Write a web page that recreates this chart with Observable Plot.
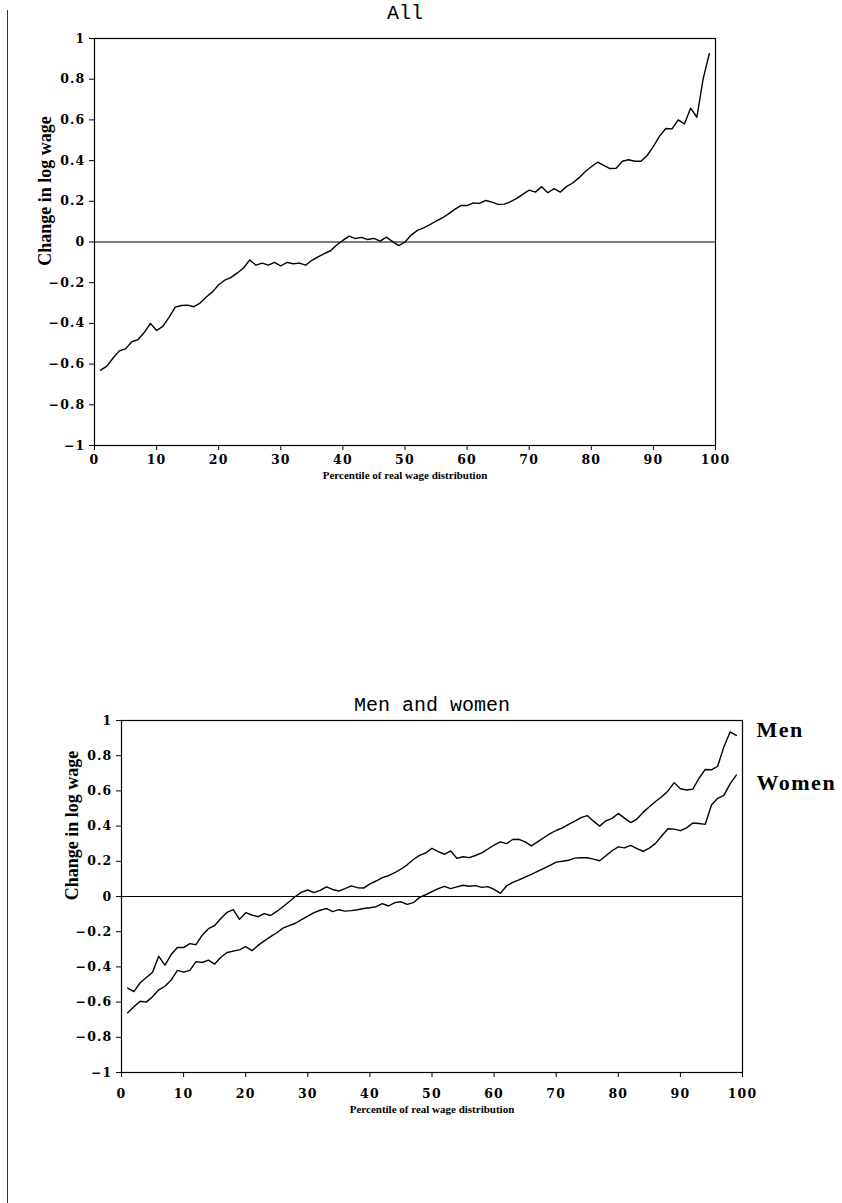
<!DOCTYPE html>
<html><head><meta charset="utf-8">
<script src="https://cdn.jsdelivr.net/npm/d3@7"></script>
<script src="https://cdn.jsdelivr.net/npm/@observablehq/plot@0.6"></script>
<style>
body{margin:0;background:#fff;}
#page{position:relative;width:842px;height:1203px;overflow:hidden;background:#fff;}
.panel{position:absolute;left:0;}
.edge{position:absolute;left:7px;top:10px;height:1193px;border-left:1px solid #333;}
.panel svg g[aria-label="x-axis tick label"] text,
.panel svg g[aria-label="y-axis tick label"] text{letter-spacing:1.2px;}
</style></head><body><div id="page"><div class="edge"></div></div>
<script>
const percentiles = d3.range(1, 100);
const allChange = [-0.63,-0.61,-0.57,-0.535,-0.525,-0.49,-0.48,-0.445,-0.40,-0.435,
 -0.415,-0.37,-0.32,-0.312,-0.31,-0.318,-0.30,-0.27,-0.245,-0.21,
 -0.187,-0.174,-0.152,-0.128,-0.088,-0.114,-0.104,-0.114,-0.10,-0.118,
 -0.10,-0.107,-0.104,-0.114,-0.09,-0.073,-0.057,-0.043,-0.015,0.008,
 0.029,0.017,0.023,0.012,0.018,0.004,0.024,0.002,-0.018,0.0,
 0.034,0.057,0.069,0.085,0.102,0.118,0.138,0.16,0.179,0.179,
 0.192,0.19,0.204,0.196,0.185,0.186,0.198,0.214,0.235,0.255,
 0.245,0.272,0.242,0.262,0.245,0.272,0.29,0.315,0.345,0.37,
 0.392,0.376,0.361,0.362,0.397,0.404,0.397,0.397,0.425,0.47,
 0.52,0.558,0.556,0.60,0.58,0.658,0.613,0.80,0.925];
const menChange = [-0.52,-0.54,-0.49,-0.46,-0.43,-0.34,-0.39,-0.33,-0.29,-0.29,
 -0.268,-0.274,-0.22,-0.183,-0.165,-0.125,-0.09,-0.075,-0.13,-0.092,
 -0.105,-0.115,-0.097,-0.108,-0.085,-0.058,-0.03,0.0,0.025,0.037,
 0.022,0.035,0.055,0.04,0.031,0.045,0.06,0.05,0.048,0.072,
 0.088,0.107,0.118,0.135,0.155,0.18,0.21,0.234,0.248,0.274,
 0.255,0.24,0.259,0.217,0.226,0.221,0.233,0.248,0.27,0.292,
 0.31,0.30,0.324,0.325,0.31,0.288,0.31,0.334,0.357,0.375,
 0.39,0.41,0.428,0.448,0.46,0.428,0.40,0.43,0.444,0.472,
 0.445,0.42,0.44,0.478,0.51,0.54,0.567,0.60,0.647,0.612,
 0.605,0.61,0.672,0.722,0.72,0.74,0.85,0.935,0.915];
const womenChange = [-0.66,-0.626,-0.595,-0.60,-0.57,-0.53,-0.51,-0.475,-0.42,-0.43,
 -0.42,-0.37,-0.375,-0.362,-0.384,-0.345,-0.318,-0.31,-0.303,-0.285,
 -0.308,-0.278,-0.252,-0.228,-0.206,-0.18,-0.165,-0.152,-0.132,-0.112,
 -0.092,-0.078,-0.068,-0.086,-0.075,-0.083,-0.08,-0.075,-0.068,-0.064,
 -0.058,-0.04,-0.054,-0.035,-0.03,-0.045,-0.035,-0.005,0.01,0.028,
 0.045,0.058,0.045,0.055,0.064,0.058,0.062,0.052,0.056,0.04,
 0.018,0.06,0.08,0.094,0.11,0.126,0.143,0.16,0.177,0.195,
 0.2,0.206,0.218,0.22,0.22,0.212,0.203,0.232,0.26,0.282,
 0.276,0.29,0.272,0.257,0.275,0.302,0.345,0.385,0.383,0.374,
 0.39,0.418,0.415,0.41,0.52,0.558,0.575,0.64,0.69];
const yTicks = [-1,-0.8,-0.6,-0.4,-0.2,0,0.2,0.4,0.6,0.8,1];
const xTicks = [0,10,20,30,40,50,60,70,80,90,100];
const panelTitles = ["All", "Men and women"];
const seriesNames = ["Men", "Women"];
const seriesLabelY = [0.945, 0.645];
const yLabel = "Change in log wage";
const xLabel = "Percentile of real wage distribution";

const fmtY = d => d === 0 ? "0" : (d < 0 ? "\u2212" : "") + String(+Math.abs(d).toFixed(1));

function makePanel({top, height, mL, mR, mT, mB, series, title, labels, titleDy, yLabelDy, xPad, xLabelDy}) {
  const marks = [
    Plot.frame({stroke: "#000", strokeWidth: 1.2}),
    Plot.ruleY([0], {stroke: "#000", strokeWidth: 1.2}),
    Plot.axisX({ticks: xTicks, tickSize: 5, tickPadding: xPad, label: null, stroke: "#000"}),
    Plot.axisY({ticks: yTicks, tickSize: 5, tickPadding: 4, tickFormat: fmtY, label: null, stroke: "#000"}),
    Plot.line(series, {x: "p", y: "v", z: "s", stroke: "#000", strokeWidth: 1.4}),
    Plot.text([title], {frameAnchor: "top", dy: titleDy, fontFamily: "Liberation Mono", fontSize: 20, fontWeight: "normal", text: d => d, fill: "#000"}),
    Plot.text([xLabel], {frameAnchor: "bottom", dy: xLabelDy, fontFamily: "Liberation Serif", fontSize: 11, fontWeight: "bold", text: d => d, fill: "#000"}),
    Plot.text([yLabel], {frameAnchor: "left", dx: -49, dy: yLabelDy, rotate: -90, textAnchor: "middle", fontFamily: "Liberation Serif", fontSize: 18, fontWeight: "bold", text: d => d, fill: "#000"})
  ];
  if (labels) {
    marks.push(Plot.text(labels, {x: () => 100, y: "y", text: "name", dx: 14, textAnchor: "start",
      fontFamily: "Liberation Serif", fontSize: 22, fontWeight: "bold", fill: "#000"}));
  }
  const svg = Plot.plot({
    width: 842, height,
    marginLeft: mL, marginRight: mR, marginTop: mT, marginBottom: mB,
    x: {domain: [0, 100]},
    y: {domain: [-1, 1]},
    style: {fontFamily: "DejaVu Serif", fontSize: "12.5px", fontWeight: "bold", color: "#000", background: "transparent", overflow: "visible"},
    marks
  });
  d3.select(svg).selectAll("text").filter(function() { return seriesNames.includes(this.textContent); })
    .style("letter-spacing", "1.5px");
  const div = document.createElement("div");
  div.className = "panel";
  div.style.top = top + "px";
  div.appendChild(svg);
  document.getElementById("page").appendChild(div);
}

const allData = percentiles.map((p, i) => ({p, v: allChange[i], s: "All"}));
const mwData = [
  ...percentiles.map((p, i) => ({p, v: menChange[i], s: seriesNames[0]})),
  ...percentiles.map((p, i) => ({p, v: womenChange[i], s: seriesNames[1]}))
];
const labelData = seriesNames.map((name, i) => ({name, y: seriesLabelY[i]}));

makePanel({top: 0, height: 500, mL: 94, mR: 127, mT: 38, mB: 55, series: allData, title: panelTitles[0],
  titleDy: -34, yLabelDy: -51, xPad: 5, xLabelDy: 33});
makePanel({top: 680, height: 460, mL: 121, mR: 100, mT: 40, mB: 68, series: mwData, title: panelTitles[1], labels: labelData,
  titleDy: -24, yLabelDy: -71, xPad: 12, xLabelDy: 40});
</script></body></html>
